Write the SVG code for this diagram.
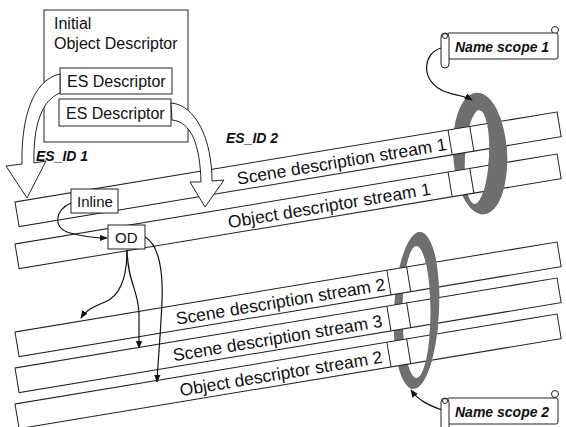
<svg xmlns="http://www.w3.org/2000/svg" width="566" height="427" viewBox="0 0 566 427">
<style>
.band{fill:#fff;stroke:#222;stroke-width:1}
.div{stroke:#222;stroke-width:1}
.bt{font-family:"Liberation Sans",Arial,sans-serif;font-size:17.5px;fill:#111;text-anchor:end}
.box{fill:#fff;stroke:#222;stroke-width:1}
.t{font-family:"Liberation Sans",Arial,sans-serif;font-size:16px;fill:#111}
.lbl{font-family:"Liberation Sans",Arial,sans-serif;font-size:14px;font-weight:bold;font-style:italic;fill:#111}
.ring{fill:#6f6f6f;fill-rule:evenodd}
.con{fill:none;stroke:#111;stroke-width:1.2}
.hollow{fill:#fff;stroke:#222;stroke-width:1}
</style>
<defs>
<marker id="ah" viewBox="0 0 10 10" refX="9" refY="5" markerWidth="8" markerHeight="8" markerUnits="userSpaceOnUse" orient="auto"><path d="M0,1 L10,5 L0,9 Z" fill="#111"/></marker>
<clipPath id="front1"><rect x="479" y="0" width="87" height="427"/></clipPath>
<clipPath id="front2"><rect x="417" y="0" width="149" height="427"/></clipPath>
<path id="ring1" d="M453.05,155.1 a27,60 -3.4 1,0 53.9,-3.2 a27,60 -3.4 1,0 -53.9,3.2 Z M465.02,156.37 a12,47 3 1,0 23.97,1.26 a12,47 3 1,0 -23.97,-1.26 Z"/>
<path id="ring2" d="M394.02,309.48 a22.5,77.5 2.6 1,0 44.95,2.04 a22.5,77.5 2.6 1,0 -44.95,-2.04 Z M402.5,312 a14,66 0 1,0 28,0 a14,66 0 1,0 -28,0 Z"/>
</defs>

<g id="ring-back">
<use href="#ring1" class="ring"/>
<use href="#ring2" class="ring"/>
</g>

<g id="stream-sd1" transform="translate(15,202) rotate(-9.43)">
<rect class="band" x="0" y="0" width="549.5" height="25"/>
<line class="div" x1="439" y1="0" x2="439" y2="25"/><line class="div" x1="461" y1="0" x2="461" y2="25"/>
<text class="bt" x="435" y="19.5">Scene description stream 1</text>
</g>
<g id="stream-od1" transform="translate(15,244) rotate(-9.43)">
<rect class="band" x="0" y="0" width="549.5" height="25"/>
<line class="div" x1="439" y1="0" x2="439" y2="25"/><line class="div" x1="461" y1="0" x2="461" y2="25"/>
<text class="bt" x="419" y="19.5">Object descriptor stream 1</text>
</g>
<g id="stream-sd2" transform="translate(15,332) rotate(-9.43)">
<rect class="band" x="0" y="0" width="549.5" height="25"/>
<line class="div" x1="377" y1="0" x2="377" y2="25"/><line class="div" x1="397" y1="0" x2="397" y2="25"/>
<text class="bt" x="373" y="19.5">Scene description stream 2</text>
</g>
<g id="stream-sd3" transform="translate(15,368) rotate(-9.43)">
<rect class="band" x="0" y="0" width="549.5" height="25"/>
<line class="div" x1="377" y1="0" x2="377" y2="25"/><line class="div" x1="397" y1="0" x2="397" y2="25"/>
<text class="bt" x="370" y="19.5">Scene description stream 3</text>
</g>
<g id="stream-od2" transform="translate(15,404) rotate(-9.43)">
<rect class="band" x="0" y="0" width="549.5" height="25"/>
<line class="div" x1="377" y1="0" x2="377" y2="25"/><line class="div" x1="397" y1="0" x2="397" y2="25"/>
<text class="bt" x="370" y="19.5">Object descriptor stream 2</text>
</g>

<g id="ring-front">
<use href="#ring1" class="ring" clip-path="url(#front1)"/>
<use href="#ring2" class="ring" clip-path="url(#front2)"/>
</g>

<g id="iod">
<rect class="box" x="44" y="10" width="144" height="132"/>
<text class="t" x="54" y="29">Initial</text>
<text class="t" x="54" y="49">Object Descriptor</text>
</g>
<g id="es1">
<rect class="box" x="60" y="68" width="112" height="26"/>
<text class="t" x="67" y="87">ES Descriptor</text>
</g>
<g id="es2">
<rect class="box" x="59" y="99" width="112" height="27"/>
<text class="t" x="66" y="119">ES Descriptor</text>
</g>

<g id="connectors">
<path class="hollow" d="M60,74 C32,80 21,120 22,164 L6,166 L27,198 L46,161 L34,163 C33,125 42,100 60,93 Z"/>
<path class="hollow" d="M171,103 C196,105 212,140 212,181 L224,180 L205,207 L190,182 L201,182 C200,146 192,122 172,120 Z"/>
<path class="con" marker-end="url(#ah)" d="M71,203 C55,210 52,228 70,233 C85,237 95,238 107,238"/>
<path class="con" marker-end="url(#ah)" d="M127,250 C127,275 122,295 105,302 C95,306 86,310 81,318"/>
<path class="con" marker-end="url(#ah)" d="M127,250 C128,285 139,290 139,315 L139,348"/>
<path class="con" marker-end="url(#ah)" d="M145,237 C160,245 163,275 162,300 C161,330 158,360 157,382"/>
<path class="con" marker-end="url(#ah)" d="M441,48 C424,53 421,76 438,88 C450,96 462,94 472,100"/>
<path class="con" marker-end="url(#ah)" d="M442,410 C428,405 418,400 411,390"/>
</g>
<text class="lbl" x="36" y="161">ES_ID 1</text>
<text class="lbl" x="226" y="143">ES_ID 2</text>

<g id="inline">
<rect class="box" x="71" y="189" width="47" height="24"/>
<text class="t" x="77" y="207" style="font-size:15px">Inline</text>
</g>
<g id="od">
<rect class="box" x="108" y="225" width="37" height="24"/>
<text class="t" x="115" y="243" style="font-size:15px">OD</text>
</g>

<g id="scope1">
<circle class="box" cx="555" cy="30" r="3.5"/>
<rect class="box" x="447" y="33" width="111" height="26" rx="2"/>
<rect class="box" x="441" y="33" width="8" height="35" rx="4"/>
<circle class="box" cx="445" cy="36" r="2.5"/>
<text class="lbl" x="455" y="52">Name scope 1</text>
</g>
<g id="scope2">
<circle class="box" cx="555" cy="394" r="3.5"/>
<rect class="box" x="447" y="398" width="111" height="26" rx="2"/>
<rect class="box" x="441" y="398" width="8" height="35" rx="4"/>
<circle class="box" cx="445" cy="401" r="2.5"/>
<text class="lbl" x="455" y="417">Name scope 2</text>
</g>
</svg>
